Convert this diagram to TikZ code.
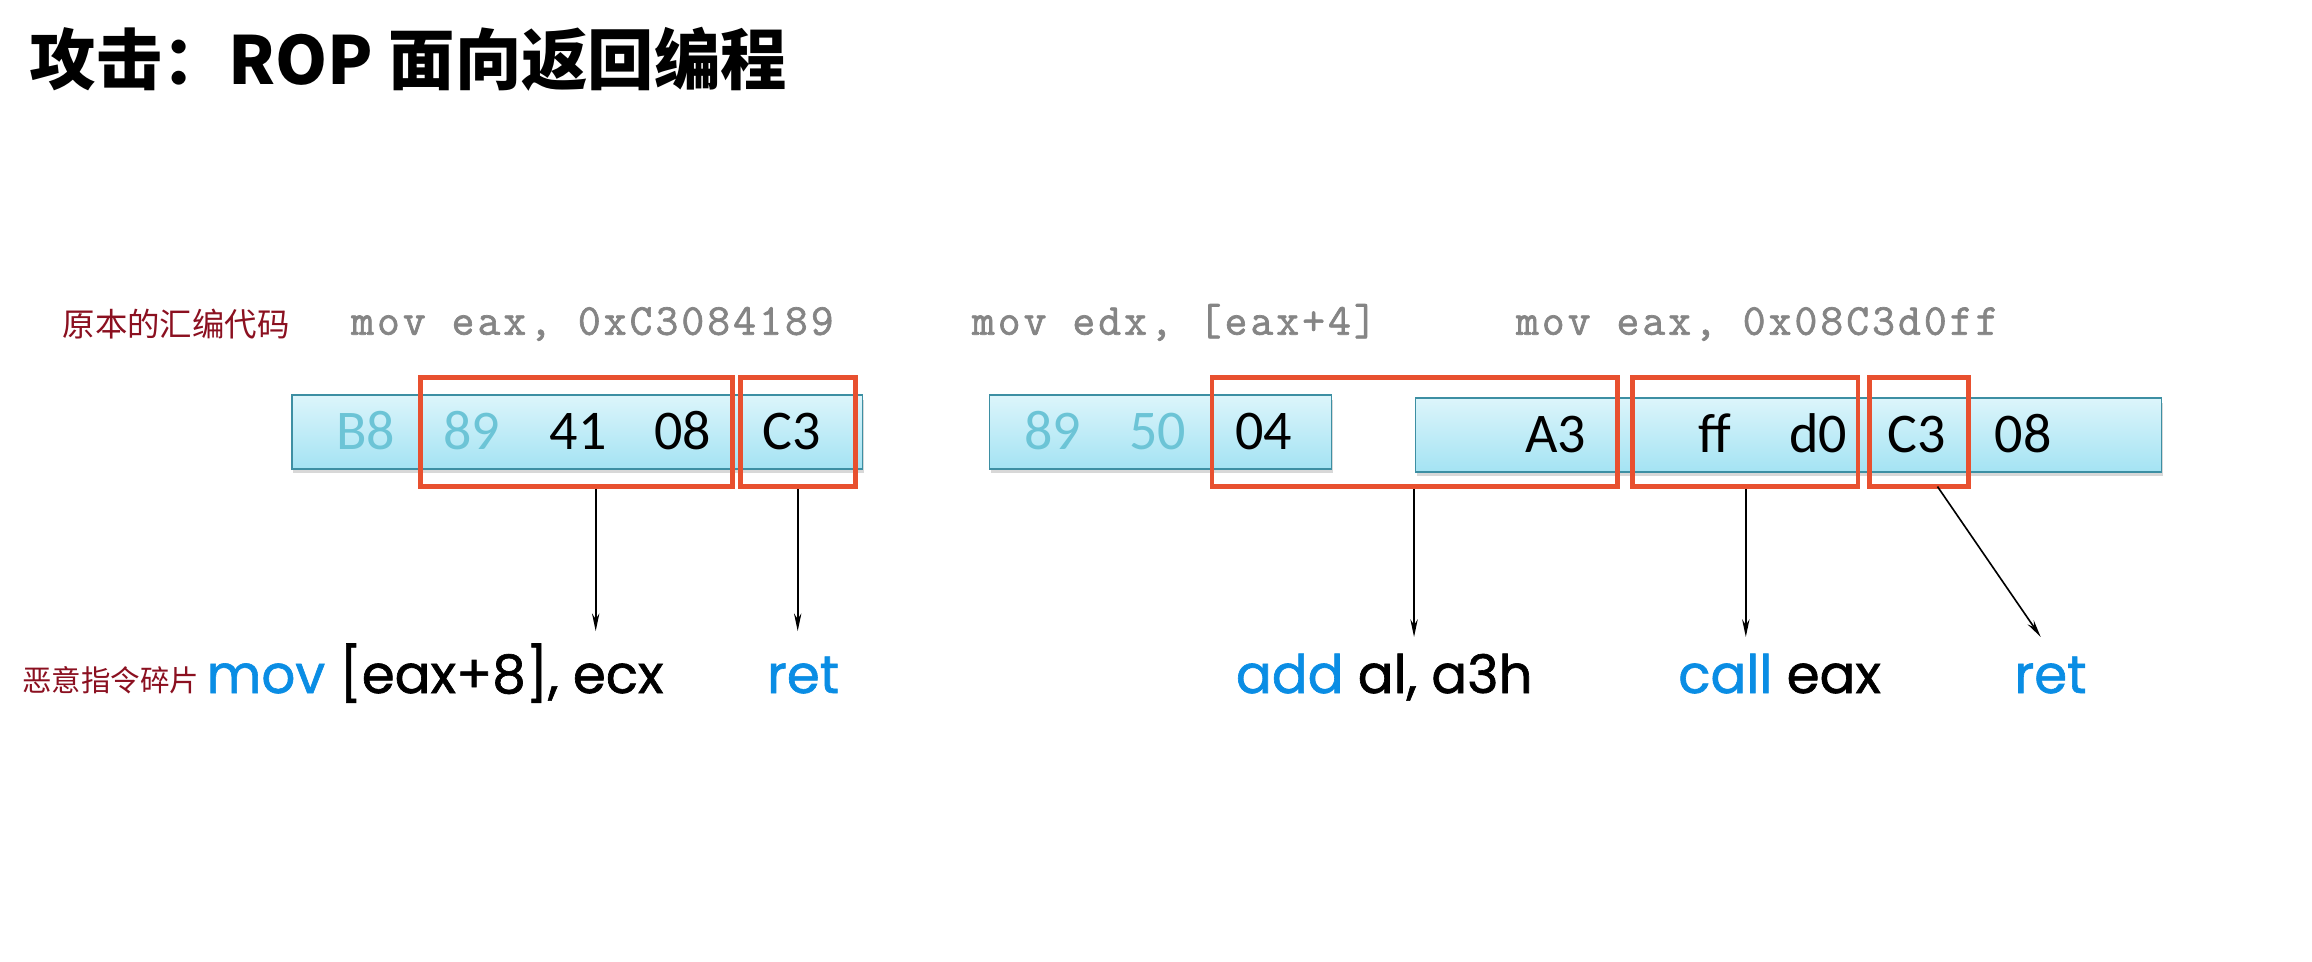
\documentclass[tikz,border=0pt]{standalone}
\usepackage{fontspec}
\setmainfont{Carlito}
\newfontfamily\cjk{Noto Sans CJK SC}
\newfontfamily\bytefont{Carlito}
\newfontfamily\instfont{Poppins}[FakeBold=1.2]
\newfontfamily\codefont{Latin Modern Mono}[LetterSpace=7,FakeBold=1.5]
\usetikzlibrary{arrows.meta,shadows}
\definecolor{darkred}{HTML}{8B1020}
\definecolor{codegray}{HTML}{858585}
\definecolor{boxtop}{HTML}{DCF5FB}
\definecolor{boxbot}{HTML}{A4E3F3}
\definecolor{boxborder}{HTML}{3D8FA3}
\definecolor{redbox}{HTML}{E8502F}
\definecolor{bytelight}{HTML}{6CC4D6}
\definecolor{instblue}{HTML}{0A8DE4}
\begin{document}
\begin{tikzpicture}[x=1pt,y=-1pt,
  bytebox/.style={draw=boxborder, line width=1.1pt, top color=boxtop, bottom color=boxbot,
    minimum height=50pt, inner sep=0pt,
    drop shadow={shadow xshift=1pt, shadow yshift=-3pt, opacity=0.25, fill=black!60}},
  gadget/.style={draw=redbox, line width=3.2pt, minimum height=74pt, inner sep=0pt},
  byte/.style={font=\bytefont\fontsize{38}{38}\selectfont, anchor=base, inner sep=0pt},
  lbyte/.style={byte, text=bytelight},
  code/.style={font=\codefont\fontsize{30}{30}\selectfont, text=codegray, anchor=base west, inner sep=0pt},
  cjklabel/.style={font=\cjk\fontsize{22}{22}\selectfont, text=darkred, inner sep=0pt},
  inst/.style={font=\instfont\fontsize{36}{36}\selectfont, anchor=base west, inner sep=0pt},
  arr/.style={-{Stealth[length=12pt,width=5pt]}, line width=1.1pt, black}]
\fill[white] (0,0) rectangle (1568,652);
\useasboundingbox (0,0) rectangle (1568,652);

% title
\node[anchor=west, inner sep=0pt, font=\cjk\bfseries\fontsize{45}{45}\selectfont] (title) at (20,40) {攻击：ROP 面向返回编程};

% labels
\node[cjklabel] (lab1) at (119.5,220) {原本的汇编代码};
\node[cjklabel, font=\cjk\fontsize{20}{20}\selectfont] (lab2) at (75,461) {恶意指令碎片};

% original code
\node[code] (c1) at (238,227) {mov eax, 0xC3084189};
\node[code] (c2) at (659,227) {mov edx, [eax+4]};
\node[code] (c3) at (1028,227) {mov eax, 0x08C3d0ff};

% byte boxes
\node[bytebox, minimum width=387pt] (bx1) at (391.5,293) {};
\node[bytebox, minimum width=232pt] (bx2) at (787,293) {};
\node[bytebox, minimum width=506pt] (bx3) at (1213,295) {};

% bytes
\node[lbyte] (b1) at (248,305) {B8};
\node[lbyte] (b2) at (320,305) {89};
\node[byte]  (b3) at (392,305) {41};
\node[byte]  (b4) at (463,305) {08};
\node[byte]  (b5) at (537,305) {C3};
\node[lbyte] (b6) at (714,305) {89};
\node[lbyte] (b7) at (785,305) {50};
\node[byte]  (b8) at (857,305) {04};
\node[byte]  (b9) at (1055,307) {A3};
\node[byte]  (b10) at (1163,307) {ff};
\node[byte]  (b11) at (1233,307) {d0};
\node[byte]  (b12) at (1300,307) {C3};
\node[byte]  (b13) at (1372,307) {08};

% gadget boxes
\node[gadget, minimum width=212pt] (r1) at (391,293) {};
\node[gadget, minimum width=78pt]  (r2) at (541,293) {};
\node[gadget, minimum width=275pt] (r3) at (959.5,293) {};
\node[gadget, minimum width=153pt] (r4) at (1183.5,293) {};
\node[gadget, minimum width=67pt]  (r5) at (1301.5,293) {};

% gadget instructions
\node[inst] (i1) at (140,470) {\textcolor{instblue}{mov}\ [eax+8], ecx};
\node[inst, text=instblue] (i2) at (520,470) {ret};
\node[inst] (i3) at (838,470) {\textcolor{instblue}{add}\ al, a3h};
\node[inst] (i4) at (1138,470) {\textcolor{instblue}{call}\ eax};
\node[inst, text=instblue] (i5) at (1366,470) {ret};

% arrow targets
\coordinate (t1) at (404,428);
\coordinate (t2) at (541,428);
\coordinate (t3) at (959,432);
\coordinate (t4) at (1184,432);
\coordinate (t5) at (1384,432);
\coordinate (s5) at (1314,330);

\draw[arr] (t1 |- r1.south) -- (t1);
\draw[arr] (t2 |- r2.south) -- (t2);
\draw[arr] (t3 |- r3.south) -- (t3);
\draw[arr] (t4 |- r4.south) -- (t4);
\draw[arr] (s5) -- (t5);
\end{tikzpicture}
\end{document}
